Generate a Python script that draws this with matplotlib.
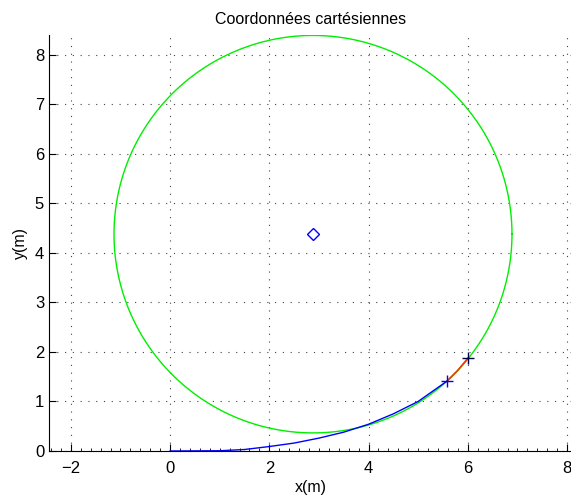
import numpy as np
import matplotlib.pyplot as plt
from matplotlib.ticker import MultipleLocator

plt.rcParams['font.family'] = ['Liberation Sans', 'DejaVu Sans']

# cercle
cx, cy, r = 2.88, 4.375, 4.01

# trajectoire (bleu)
traj_x = [0.0, 1.0, 1.5, 2.0, 2.5, 3.0, 3.5, 4.0, 4.5, 5.0, 5.58]
traj_y = [0.0, 0.005, 0.03, 0.09, 0.16, 0.26, 0.38, 0.54, 0.75, 1.0, 1.41]

# segment rouge
seg_x = [5.58, 5.8, 6.0]
seg_y = [1.41, 1.63, 1.87]

fig = plt.figure(figsize=(5.71, 4.95), dpi=100)
ax = fig.add_axes([0.0858, 0.0889, 0.916, 0.84])

t = np.linspace(0, 2 * np.pi, 400)
ax.plot(cx + r * np.cos(t), cy + r * np.sin(t), color='#00ee00', lw=1)
ax.plot(traj_x, traj_y, color='#0000ff', lw=1)
ax.plot(seg_x, seg_y, color='#ff3300', lw=1.2)
ax.plot([cx], [cy], marker='D', mfc='none', mec='#0000ff', ms=6, ls='none')
ax.plot([traj_x[-1]], [traj_y[-1]], marker='+', color='#0000ff', ms=8, ls='none')
ax.plot([seg_x[-1]], [seg_y[-1]], marker='+', color='#000044', ms=8, ls='none')

ax.set_xlim(-2.44, 8.1)
ax.set_ylim(0, 8.39)
ax.xaxis.set_major_locator(MultipleLocator(2))
ax.xaxis.set_minor_locator(MultipleLocator(0.2))
ax.yaxis.set_major_locator(MultipleLocator(1))
ax.spines['top'].set_visible(False)
ax.spines['right'].set_visible(False)
ax.tick_params(direction='in', labelsize=12, length=5)
ax.tick_params(axis='x', pad=7)
ax.tick_params(which='minor', direction='in', length=2)
ax.grid(True, linestyle=(0, (1, 6)), color='#444444', lw=0.8)

ax.set_title('Coordonnées cartésiennes', fontsize=11.5, pad=8)
ax.set_xlabel('x(m)', fontsize=11.5, labelpad=3)
ax.set_ylabel('y(m)', fontsize=11.5, labelpad=5)

plt.savefig('out.png', dpi=100)
